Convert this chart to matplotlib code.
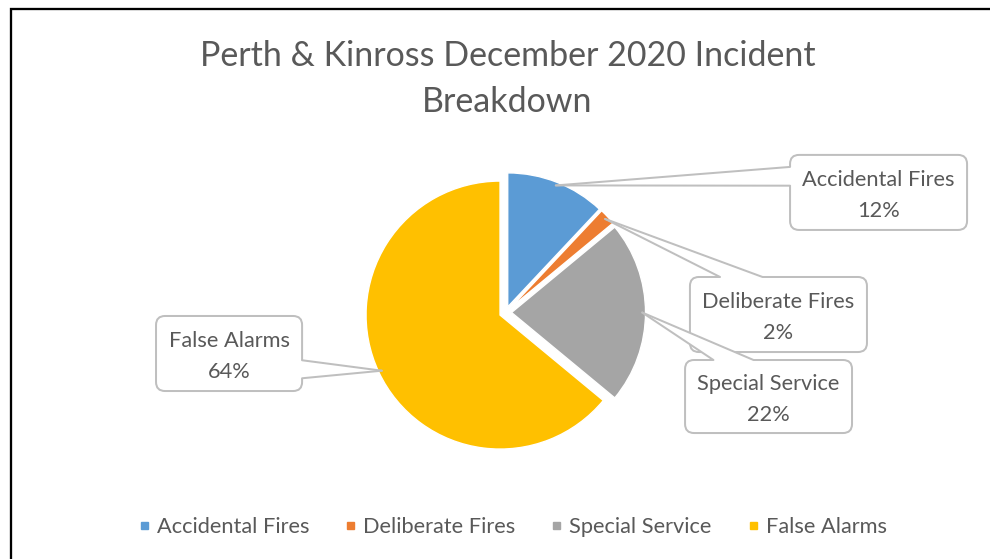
import matplotlib
matplotlib.use('Agg')
import matplotlib.pyplot as plt
import numpy as np
from matplotlib.patches import FancyBboxPatch, Polygon, Rectangle
from matplotlib.lines import Line2D

# ---------------- data ----------------
categories = ['Accidental Fires', 'Deliberate Fires', 'Special Service', 'False Alarms']
values = [12, 2, 22, 64]
colors = ['#5B9BD5', '#ED7D31', '#A5A5A5', '#FFC000']
title_text = 'Perth & Kinross December 2020 Incident\nBreakdown'

# ---------------- layout ----------------
W, H, DPI = 990, 559, 100
FAMILY = ['Lato', 'DejaVu Sans']
TXT = '#595959'
EDGE = '#BFBFBF'
cx, cy, R = 505.5, 312.5, 134.0   # pie centre / radius in pixels

# callout boxes: centre (data units), width, height, side of pointer, pointer base fractions
callouts = {
    'Accidental Fires': dict(c=(2.784, 0.896), w=1.321, h=0.560, side='left', f=(0.16, 0.41)),
    'Deliberate Fires': dict(c=(2.037, -0.015), w=1.321, h=0.560, side='top', f=(0.17, 0.41)),
    'Special Service': dict(c=(1.963, -0.627), w=1.246, h=0.545, side='top', f=(0.17, 0.41)),
    'False Alarms': dict(c=(-2.063, -0.306), w=1.090, h=0.560, side='right', f=(0.59, 0.83)),
}

fig = plt.figure(figsize=(W / DPI, H / DPI), dpi=DPI)
renderer = fig.canvas.get_renderer()


def fit_size(s, target_px):
    t = fig.text(0, 0, s, fontsize=10, family=FAMILY)
    w = t.get_window_extent(renderer).width
    t.remove()
    return 10 * target_px / w


def line_unit(s, size):
    hs = []
    for L in (1.0, 2.0):
        t = fig.text(0, 0, s, fontsize=size, family=FAMILY, linespacing=L)
        hs.append(t.get_window_extent(renderer).height)
        t.remove()
    return hs[1] - hs[0]


# ---------------- pie ----------------
ax = fig.add_axes([0, 0, 1, 1])
wedges, _ = ax.pie(values, colors=colors, startangle=90, counterclock=False,
                   explode=[0.045] * len(values), radius=1.0,
                   wedgeprops=dict(edgecolor='white', linewidth=1.0))
ax.set_aspect('auto')
ax.set_xlim(-cx / R, (W - cx) / R)
ax.set_ylim(-(H - cy) / R, cy / R)
ax.axis('off')

# ---------------- callouts ----------------
lab_size = fit_size('Accidental Fires', 152)
lab_unit = line_unit('A\nB', lab_size)
total = float(sum(values))
lw_px = 2.0
lw_pt = lw_px * 72 / DPI
for wdg, cat, v in zip(wedges, categories, values):
    spec = callouts[cat]
    mid = np.deg2rad((wdg.theta1 + wdg.theta2) / 2)
    ccx, ccy = wdg.center
    tip = (ccx + 0.975 * np.cos(mid), ccy + 0.975 * np.sin(mid))
    bx, by = spec['c']
    bw, bh = spec['w'], spec['h']
    x0, y0 = bx - bw / 2, by - bh / 2
    box = FancyBboxPatch((x0, y0), bw, bh,
                         boxstyle='round,pad=0,rounding_size=%f' % (9 / R),
                         facecolor='white', edgecolor=EDGE, linewidth=lw_pt,
                         zorder=5, clip_on=False)
    ax.add_patch(box)
    f1, f2 = spec['f']
    e = 0.04
    if spec['side'] == 'left':
        b1 = (x0, y0 + bh - f1 * bh); b2 = (x0, y0 + bh - f2 * bh)
        b1i = (x0 + e, b1[1]); b2i = (x0 + e, b2[1])
    elif spec['side'] == 'right':
        b1 = (x0 + bw, y0 + bh - f1 * bh); b2 = (x0 + bw, y0 + bh - f2 * bh)
        b1i = (x0 + bw - e, b1[1]); b2i = (x0 + bw - e, b2[1])
    else:
        b1 = (x0 + f1 * bw, y0 + bh); b2 = (x0 + f2 * bw, y0 + bh)
        b1i = (b1[0], y0 + bh - e); b2i = (b2[0], y0 + bh - e)
    ax.add_patch(Polygon([tip, b1, b1i, b2i, b2], closed=True, facecolor='white',
                         edgecolor='none', zorder=6, clip_on=False))
    for b in (b1, b2):
        ax.add_line(Line2D([tip[0], b[0]], [tip[1], b[1]], color=EDGE,
                           linewidth=lw_pt, zorder=7, clip_on=False,
                           solid_capstyle='round'))
    pct = '%d%%' % round(v / total * 100)
    ax.text(bx, by - 3 / R, '%s\n%s' % (cat, pct), ha='center', va='center',
            fontsize=lab_size, family=FAMILY, color=TXT,
            linespacing=30 / lab_unit * (30 / 34), zorder=8)

# ---------------- title ----------------
ttl_size = fit_size(title_text.split('\n')[0], 615)
ttl_unit = line_unit('A\nB', ttl_size)
fig.text(0.5 * (200 + 815) / W, 1 - 79 / H, title_text, ha='center', va='center',
         fontsize=ttl_size, family=FAMILY, color=TXT,
         linespacing=45 / ttl_unit * (45 / 50))

# ---------------- legend ----------------
leg_size = fit_size('Accidental Fires', 152)
fs_px = leg_size * DPI / 72
handles = [Line2D([], [], marker='s', linestyle='none', markersize=7 * 72 / DPI,
                  markerfacecolor=c, markeredgecolor=c) for c in colors]
hl = 0.6
half = hl * fs_px / 2
fig.legend(handles, categories, loc='center', bbox_to_anchor=(512 / W, 1 - 527 / H),
           ncol=4, frameon=False, prop=dict(family=FAMILY, size=leg_size),
           labelcolor=TXT, handlelength=hl, handletextpad=(13 - half) / fs_px,
           columnspacing=(41 - half) / fs_px, borderpad=0, borderaxespad=0)

# ---------------- outer frame ----------------
fig.patches.append(Rectangle((10.5 / W, -0.1), 1.2, 1 - 9 / H + 0.1,
                             transform=fig.transFigure, fill=False,
                             edgecolor='black', linewidth=2.3 * 72 / DPI,
                             figure=fig))

fig.savefig('out.png', dpi=DPI)
